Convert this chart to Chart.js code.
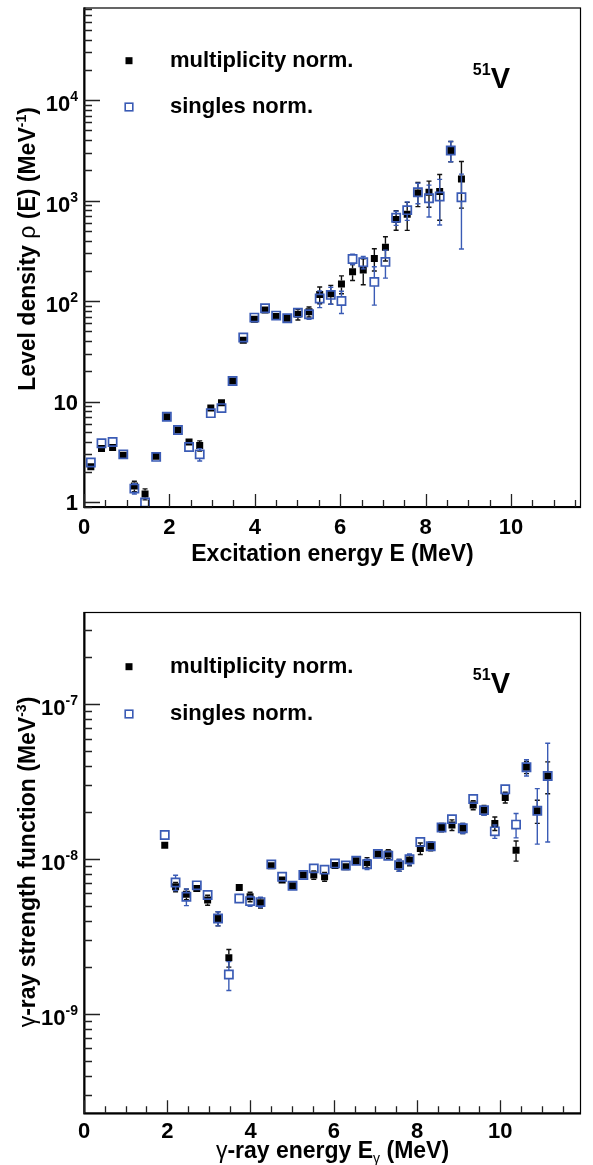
<!DOCTYPE html>
<html><head><meta charset="utf-8">
<script src="https://cdn.jsdelivr.net/npm/chart.js@4.4.0/dist/chart.umd.min.js"></script>
<style>
html,body{margin:0;padding:0;background:#fff;}
body{width:593px;height:1165px;position:relative;overflow:hidden;}
canvas{position:absolute;left:0;}
</style></head><body>
<canvas id="c1" width="593" height="580" style="top:0;width:593px;height:580px"></canvas>
<canvas id="c2" width="593" height="585" style="top:580px;width:593px;height:585px"></canvas>
<script>
// ---------- data: level density (top panel) ----------
const energyTop = [0.16,0.41,0.67,0.92,1.18,1.43,1.69,1.94,2.20,2.46,2.71,2.97,3.22,3.48,3.73,3.99,4.24,4.50,4.76,5.01,5.27,5.52,5.78,6.03,6.29,6.54,6.80,7.06,7.31,7.57,7.82,8.08,8.33,8.59,8.84];
const rhoMult    = [2.24,3.40,3.48,2.92,1.44,1.20,2.85,7.05,5.2,3.95,3.64,8.6,9.7,16.0,40.8,65.9,81.5,70.0,67.4,73.8,78.3,116,118,148,195,204,265,343,649,731,1191,1208,1227,3150,1641];
const rhoMultErr = [0.07,0.1,0.1,0.09,0.17,0.15,0.1,0.2,0.15,0.25,0.42,0.5,0.6,0.5,1.5,3.5,4,4,4.5,9,9,22,25,30,35,59,66,93,143,227,322,350,590,720,800];
const rhoSing    = [2.47,3.84,3.95,2.98,1.36,0.99,2.81,7.05,5.2,3.53,2.98,7.66,8.6,16.0,43.3,68.4,84.6,71.6,67.4,76.6,73.8,106,115,100,262,243,155,245,674,802,1208,1054,1096,3150,1079];
const rhoSingErr = [0.07,0.1,0.1,0.09,0.16,0.1,0.1,0.2,0.15,0.3,0.42,0.4,0.5,0.5,1.5,3.5,4,4,4.5,7,8,20,22,25,31,34,64,76,108,168,278,369,526,720,750];

// ---------- data: gamma-ray strength function (bottom panel) ----------
const energyBottom = [1.94,2.20,2.46,2.71,2.97,3.22,3.48,3.73,3.99,4.24,4.50,4.76,5.01,5.27,5.52,5.78,6.03,6.29,6.54,6.80,7.06,7.31,7.57,7.82,8.08,8.33,8.59,8.84,9.10,9.35,9.61,9.87,10.12,10.38,10.63,10.89,11.14];
const gsfMult    = [1.23e-8,6.62e-9,5.94e-9,6.47e-9,5.44e-9,4.14e-9,2.31e-9,6.56e-9,5.71e-9,5.23e-9,9.05e-9,7.32e-9,6.73e-9,7.9e-9,7.9e-9,7.7e-9,9.1e-9,8.92e-9,9.75e-9,9.52e-9,1.08e-8,1.08e-8,9.15e-9,9.85e-9,1.17e-8,1.21e-8,1.60e-8,1.66e-8,1.58e-8,2.23e-8,2.07e-8,1.70e-8,2.50e-8,1.14e-8,3.91e-8,2.05e-8,3.44e-8];
const gsfMultErr = [6e-10,4.6e-10,4.6e-10,2.6e-10,4e-10,4.3e-10,3e-10,2.6e-10,4e-10,4e-10,4e-10,4e-10,3e-10,4e-10,5e-10,5e-10,5e-10,5e-10,5e-10,7e-10,5e-10,7e-10,8e-10,8e-10,1e-9,8e-10,1e-9,1.3e-9,1.2e-9,1.5e-9,1.5e-9,1.7e-9,2e-9,1.7e-9,3.5e-9,3.5e-9,8e-9];
const gsfSing    = [1.43e-8,7.07e-9,5.71e-9,6.77e-9,5.86e-9,4.14e-9,1.80e-9,5.57e-9,5.36e-9,5.28e-9,9.24e-9,7.69e-9,6.73e-9,7.9e-9,8.71e-9,8.55e-9,9.38e-9,9.1e-9,9.75e-9,9.27e-9,1.08e-8,1.05e-8,9.15e-9,9.98e-9,1.29e-8,1.21e-8,1.60e-8,1.81e-8,1.58e-8,2.44e-8,2.07e-8,1.51e-8,2.82e-8,1.67e-8,3.91e-8,2.05e-8,3.44e-8];
const gsfSingErr = [6e-10,8e-10,7e-10,3e-10,4e-10,4.3e-10,3.8e-10,2e-10,4e-10,4e-10,4e-10,4e-10,3e-10,4e-10,5e-10,5e-10,5e-10,5e-10,5e-10,7e-10,5e-10,7e-10,8e-10,8e-10,8e-10,8e-10,1e-9,1.2e-9,1.2e-9,1.5e-9,1.5e-9,1.5e-9,2e-9,3e-9,4.7e-9,8e-9,2.15e-8];

// ---------- tick labels ----------
const xTickValues = [0,2,4,6,8,10];
const xTickLabels = ['0','2','4','6','8','10'];
const topYTickValues = [1,10,100,1000,10000];
const topYTickBase   = ['1','10','10','10','10'];
const topYTickExp    = ['','','2','3','4'];
const botYTickValues = [1e-9,1e-8,1e-7];
const botYTickBase   = ['10','10','10'];
const botYTickExp    = ['-9','-8','-7'];
const seriesLabels = ['multiplicity norm.','singles norm.'];
const nucleusMass = '51', nucleusSym = 'V';

// ---------- style ----------
const BLUE = '#3a5bb5';
const FONT = '"Liberation Sans", Arial, Helvetica, sans-serif';
const B = s => `bold ${s}px ${FONT}`;
const R = s => `${s}px ${FONT}`;

function richWidth(ctx, segs){ let w=0; for(const s of segs){ ctx.font=s.f; w+=ctx.measureText(s.t).width; } return w; }
function drawRich(ctx, segs, x, y, align){
  const w = richWidth(ctx, segs);
  let cx = align==='center' ? x-w/2 : align==='right' ? x-w : x;
  ctx.textAlign='left'; ctx.textBaseline='alphabetic';
  for(const s of segs){ ctx.font=s.f; ctx.fillText(s.t, cx, y+(s.dy||0)); cx += ctx.measureText(s.t).width; }
}

function makePlugin(cfg){
  return {
    id:'rootFrame',
    beforeDraw(chart){ const c=chart.ctx; c.save(); c.fillStyle='#fff'; c.fillRect(0,0,chart.width,chart.height); c.restore(); },
    beforeDatasetDraw(chart, args){
      const ds = chart.data.datasets[args.index]; if(!ds.errs) return;
      const ctx=chart.ctx, ys=chart.scales.y, ca=chart.chartArea;
      ctx.save(); ctx.beginPath(); ctx.rect(ca.left, ca.top, ca.right-ca.left, ca.bottom-ca.top); ctx.clip();
      ctx.strokeStyle = ds.errColor; ctx.lineWidth = 1.4;
      const half = ds.markerHalf;
      args.meta.data.forEach((pt,i)=>{
        const v = ds.data[i].y, e = ds.errs[i];
        const x = pt.x, y = pt.y;
        const yt = ys.getPixelForValue(v+e);
        const yb = v-e>0 ? ys.getPixelForValue(v-e) : ca.bottom+10;
        ctx.beginPath();
        if (y-half > yt+0.5){ ctx.moveTo(x,y-half); ctx.lineTo(x,yt); ctx.moveTo(x-2.5,yt); ctx.lineTo(x+2.5,yt); }
        if (yb > y+half+0.5){ ctx.moveTo(x,y+half); ctx.lineTo(x,yb); ctx.moveTo(x-2.5,yb); ctx.lineTo(x+2.5,yb); }
        ctx.stroke();
      });
      ctx.restore();
    },
    afterDraw(chart){
      const ctx=chart.ctx, xs=chart.scales.x, ys=chart.scales.y, ca=chart.chartArea;
      ctx.save();
      // frame
      ctx.strokeStyle='#000'; ctx.lineWidth=1.2;
      ctx.strokeRect(ca.left, ca.top+0.5, ca.right-ca.left-0.5, ca.bottom-ca.top);
      ctx.lineWidth=2;
      ctx.beginPath(); ctx.moveTo(ca.left+0.5, ca.top); ctx.lineTo(ca.left+0.5, ca.bottom); ctx.lineTo(ca.right, ca.bottom); ctx.stroke();
      // x ticks
      ctx.strokeStyle='#222'; ctx.lineWidth=1.3;
      ctx.beginPath();
      for(let k=0; k*0.5<=xs.max+1e-9; k++){
        const v=k*0.5, px=Math.round(xs.getPixelForValue(v))+0.5;
        const L = (k%4===0)?13:7;
        ctx.moveTo(px, ca.bottom); ctx.lineTo(px, ca.bottom-L);
      }
      // y ticks (log)
      const d0=Math.floor(Math.log10(ys.min)), d1=Math.ceil(Math.log10(ys.max));
      for(let d=d0; d<=d1; d++){
        for(let m=1; m<=9; m++){
          const v=m*Math.pow(10,d);
          if(v<ys.min*0.999||v>ys.max*1.001) continue;
          const py=Math.round(ys.getPixelForValue(v))+0.5;
          const L = m===1?16:8;
          ctx.moveTo(ca.left, py); ctx.lineTo(ca.left+L, py);
        }
      }
      ctx.stroke();
      ctx.fillStyle='#000';
      // x labels
      ctx.font=B(22); ctx.textAlign='center'; ctx.textBaseline='alphabetic';
      xTickValues.forEach((v,i)=>{ ctx.fillText(xTickLabels[i], xs.getPixelForValue(v), ca.bottom+cfg.xLabelDy); });
      // y labels
      cfg.yTickValues.forEach((v,i)=>{
        const py=ys.getPixelForValue(v);
        const exp=cfg.yTickExp[i];
        if(exp){ drawRich(ctx,[{t:cfg.yTickBase[i],f:B(22),dy:11},{t:exp,f:B(14),dy:1}],78,py,'right'); }
        else { drawRich(ctx,[{t:cfg.yTickBase[i],f:B(22)}],78,py+8,'right'); }
      });
      // axis titles
      drawRich(ctx, cfg.xTitle, (ca.left+ca.right)/2, cfg.xTitleBase, 'center');
      ctx.save(); ctx.translate(35, cfg.yTitleCenter); ctx.rotate(-Math.PI/2);
      drawRich(ctx, cfg.yTitle, 0, 0, 'center'); ctx.restore();
      // legend
      ctx.fillStyle='#000'; ctx.fillRect(129-3.5, cfg.legY[0]-3.5, 7, 7);
      ctx.strokeStyle=BLUE; ctx.lineWidth=1.6; ctx.strokeRect(129-3.8, cfg.legY[1]-3.8, 7.6, 7.6);
      ctx.fillStyle='#000';
      drawRich(ctx,[{t:seriesLabels[0],f:B(22)}],170,cfg.legY[0]+6,'left');
      drawRich(ctx,[{t:seriesLabels[1],f:B(22)}],170,cfg.legY[1]+6,'left');
      // nucleus label
      drawRich(ctx,[{t:nucleusMass,f:B(16),dy:-13},{t:nucleusSym,f:B(29)}],510,cfg.nucBase,'right');
      ctx.restore();
    }
  };
}

function makeChart(id, cfg, ex, multY, multE, singY, singE){
  const pts=(xa,ya)=>xa.map((x,i)=>({x:x,y:ya[i]}));
  return new Chart(document.getElementById(id), {
    type:'scatter',
    data:{datasets:[
      {label:seriesLabels[1], data:pts(ex,singY), errs:singE, errColor:BLUE, markerHalf:4.3,
       pointStyle:'rect', pointRadius:5.8, pointHoverRadius:5.8, borderColor:BLUE, borderWidth:1.7, backgroundColor:'rgba(0,0,0,0)', order:1},
      {label:seriesLabels[0], data:pts(ex,multY), errs:multE, errColor:'#111', markerHalf:3.5,
       pointStyle:'rect', pointRadius:4.95, pointHoverRadius:4.95, borderColor:'#000', borderWidth:0, backgroundColor:'#000', order:2}
    ]},
    options:{
      responsive:false, animation:false, devicePixelRatio:1,
      layout:{padding:{top:cfg.padTop,right:12,left:0,bottom:0}},
      plugins:{legend:{display:false},tooltip:{enabled:false}},
      scales:{
        x:{type:'linear',min:0,max:cfg.xmax,grid:{display:false},border:{display:false},ticks:{display:false},
           afterFit:s=>{s.height=cfg.xAxisH;}},
        y:{type:'logarithmic',min:cfg.ymin,max:cfg.ymax,grid:{display:false},border:{display:false},ticks:{display:false},
           afterFit:s=>{s.width=84;}}
      }
    },
    plugins:[makePlugin(cfg)]
  });
}

makeChart('c1', {
  padTop:5, xAxisH:73, xmax:11.64, ymin:0.892, ymax:83300, xLabelDy:27,
  yTickValues:topYTickValues, yTickBase:topYTickBase, yTickExp:topYTickExp,
  xTitle:[{t:'Excitation energy E (MeV)',f:B(23)}], xTitleBase:561,
  yTitle:[{t:'Level density ',f:B(23)},{t:'\u03c1',f:R(23)},{t:' (E) (MeV',f:B(23)},{t:'-1',f:B(14),dy:-9},{t:')',f:B(23)}],
  yTitleCenter:249, legY:[60.7,107], nucBase:88
}, energyTop, rhoMult, rhoMultErr, rhoSing, rhoSingErr);

makeChart('c2', {
  padTop:32, xAxisH:51.7, xmax:11.94, ymin:2.29e-10, ymax:3.93e-7, xLabelDy:25,
  yTickValues:botYTickValues, yTickBase:botYTickBase, yTickExp:botYTickExp,
  xTitle:[{t:'\u03b3',f:R(23)},{t:'-ray energy E',f:B(23)},{t:'\u03b3',f:R(14),dy:5},{t:' (MeV)',f:B(23)}], xTitleBase:578,
  yTitle:[{t:'\u03b3',f:R(23)},{t:'-ray strength function (MeV',f:B(23)},{t:'-3',f:B(14),dy:-9},{t:')',f:B(23)}],
  yTitleCenter:282, legY:[86.7,134], nucBase:113
}, energyBottom, gsfMult, gsfMultErr, gsfSing, gsfSingErr);
</script>
</body></html>
